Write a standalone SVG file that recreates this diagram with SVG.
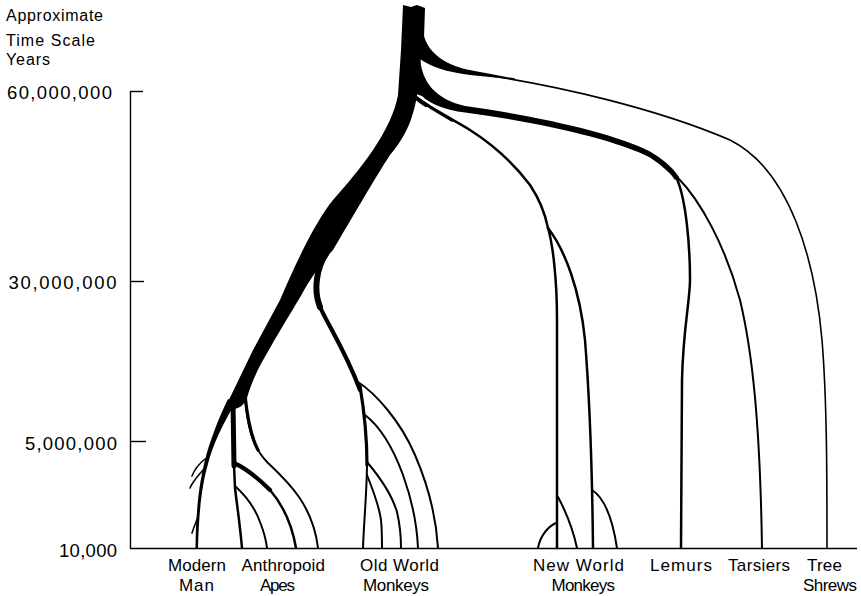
<svg xmlns="http://www.w3.org/2000/svg" width="861" height="596" viewBox="0 0 861 596">
<style>
.t{font-family:"Liberation Sans",Arial,sans-serif;fill:#000}
.lab{font-size:17px}
.num{font-size:18.5px}
.hdr{font-size:16px}
.ax{stroke:#000;stroke-width:1.4;fill:none}
.br{fill:none;stroke:#000;stroke-linecap:round;stroke-linejoin:round}
.w1{stroke-width:1.6}
.w2{stroke-width:2}
.w25{stroke-width:2.5}
.w3{stroke-width:3.2}
.w4{stroke-width:4.2}
.w5{stroke-width:5}
.w6{stroke-width:6}
.f{fill:#000;stroke:none}
</style>
<rect width="861" height="596" fill="#fff"/>
<g id="axis">
<g class="ax">
<line x1="130.5" y1="91" x2="130.5" y2="548.5"/>
<line x1="130" y1="91.5" x2="143" y2="91.5"/>
<line x1="130" y1="281.5" x2="144" y2="281.5"/>
<line x1="130" y1="441.5" x2="146" y2="441.5"/>
<line x1="130" y1="548.5" x2="857" y2="548.5"/>
</g>
<text class="t hdr" x="6" y="21" textLength="97">Approximate</text>
<text class="t hdr" x="6" y="45.5" textLength="89">Time Scale</text>
<text class="t hdr" x="6" y="65" textLength="44">Years</text>
<text class="t num" x="7" y="99" textLength="105">60,000,000</text>
<text class="t num" x="8.5" y="289" textLength="108">30,000,000</text>
<text class="t num" x="25" y="450" textLength="92">5,000,000</text>
<text class="t num" x="59" y="556.5" textLength="58">10,000</text>
</g>
<g id="connectors">
<!-- trunk -->
<path class="f" d="M403,5 L411,7 L417,5 L425,8 L424,38 C423,45 422,52 421,57 L418,85 C416,115 405,138 390,155 C375,178 352,218 333,250 L322,262 L307,285 C300,298 285,322 270,348 C260,365 252,380 247,398 C245,404 240,408 234,409 L226,406 L253,350 L280,300 C295,265 315,222 333,200 C360,170 392,130 398,95 L401,50 Z"/>
<!-- tree shrews branch -->
<path class="f" d="M410,36 L424,36 C428,50 440,63 467,69.5 C485,73 500,76 515,78.5 L515,79.5 C500,78 485,76.5 470,75 C447,72 430,67 419,58 L410,58 Z"/>
<path class="br w1" d="M465,72 C560,85 660,110 730,140 C790,170 815,260 822,340 C827,400 827,480 827,548"/>
<!-- lemurs / tarsiers branch -->
<path class="f" d="M410,58 L420,58 C422,82 435,99 465,106 C540,116.5 615,133.5 650,151.5 C662,158.5 672,166.5 679,177 L675,180 C670,172 660,164.5 650,157.5 C615,139.5 540,122.5 465,112.5 C445,110 430,104 422,96 L410,92 Z"/>
<path class="br w25" d="M677,179 C686,200 690,245 690,280 C690,300 683,330 682,380 L681,548"/>
<path class="br w2" d="M678,178 C700,200 725,245 740,300 C752,350 760,420 762,548"/>
<!-- new world monkeys -->
<path class="br w4" d="M406,88 C412,95 418,100 426,105"/>
<path class="br w3" d="M418,99 C428,106 438,112 452,120"/>
<path class="br w25" d="M408,90 C420,103 445,115 470,130 C495,146 515,165 530,185 C540,200 545,213 548,228"/>
<path class="br w25" d="M548,228 C553,245 557,280 557,320 L557,548"/>
<path class="br w25" d="M548,228 C565,250 580,290 585,340 C589,390 592,450 593,548"/>
<path class="br w2" d="M558,497 C565,510 572,525 577,548"/>
<path class="br w2" d="M556,523 C547,527 540,537 538,548"/>
<path class="br w2" d="M592,490 C603,497 612,515 617,548"/>
<!-- old world monkeys -->
<path class="br w6" d="M326,254 C317,267 313,290 320,307"/>
<path class="br w4" d="M326,254 C317,267 313,290 320,307 C328,325 345,350 360,390"/>
<path class="br w3" d="M360,386 C364,410 367,440 367,465"/>
<path class="br w2" d="M367,462 C367,490 364,520 363,548"/>
<path class="br w2" d="M358,382 C375,393 400,420 415,455 C428,485 436,515 438,548"/>
<path class="br w2" d="M365,415 C378,425 392,445 403,475 C412,500 417,525 418,548"/>
<path class="br w2" d="M367,462 C378,475 392,495 397,512 C400,525 401,538 401,548"/>
<path class="br w2" d="M367,475 C373,490 379,505 381,520 C382,530 382,540 382,548"/>
<!-- modern man -->
<path class="f" d="M228,399 C220,415 210,440 205,460 C200,480 196,505 195.5,548 L198,548 C199,510 202,485 208,464 C212,447 222,425 236,402 Z"/>
<path class="br w1" d="M205,459 C200,463 195,468 192,476"/>
<path class="br w1" d="M203,470 C198,476 193,481 190,488"/>
<path class="br w1" d="M198,517 C196,522 194,527 192,533"/>
<!-- anthropoid apes -->
<path class="br w5" d="M233,402 L234,466"/>
<path class="br w25" d="M234,465 L235,488 C237,505 240,525 242,548"/>
<path class="br w4" d="M234,463 C245,468 258,478 270,490"/>
<path class="br w25" d="M234,463 C245,468 258,478 270,490 C283,505 292,525 296,548"/>
<path class="br w2" d="M235,486 C245,495 255,508 260,522 C264,532 266,540 267,548"/>
<path class="br w3" d="M245,395 C247,415 250,435 258,450"/>
<path class="br w2" d="M245,395 C247,425 252,447 268,463 C288,482 313,505 318,548"/>
</g>
<g id="modern-man"><text class="t lab" x="168" y="570.5" textLength="58">Modern</text><text class="t lab" x="179" y="591" textLength="35">Man</text></g>
<g id="anthropoid-apes"><text class="t lab" x="241.5" y="570.5" textLength="83.5">Anthropoid</text><text class="t lab" x="260" y="591" textLength="35">Apes</text></g>
<g id="old-world-monkeys"><text class="t lab" x="360" y="570.5" textLength="79">Old World</text><text class="t lab" x="363" y="591" textLength="66">Monkeys</text></g>
<g id="new-world-monkeys"><text class="t lab" x="533" y="570.5" textLength="91">New World</text><text class="t lab" x="551.5" y="591" textLength="63.5">Monkeys</text></g>
<g id="lemurs"><text class="t lab" x="650" y="570.5" textLength="62">Lemurs</text></g>
<g id="tarsiers"><text class="t lab" x="728" y="570.5" textLength="62">Tarsiers</text></g>
<g id="tree-shrews"><text class="t lab" x="807" y="570.5" textLength="35">Tree</text><text class="t lab" x="803" y="591" textLength="54">Shrews</text></g>
</svg>
